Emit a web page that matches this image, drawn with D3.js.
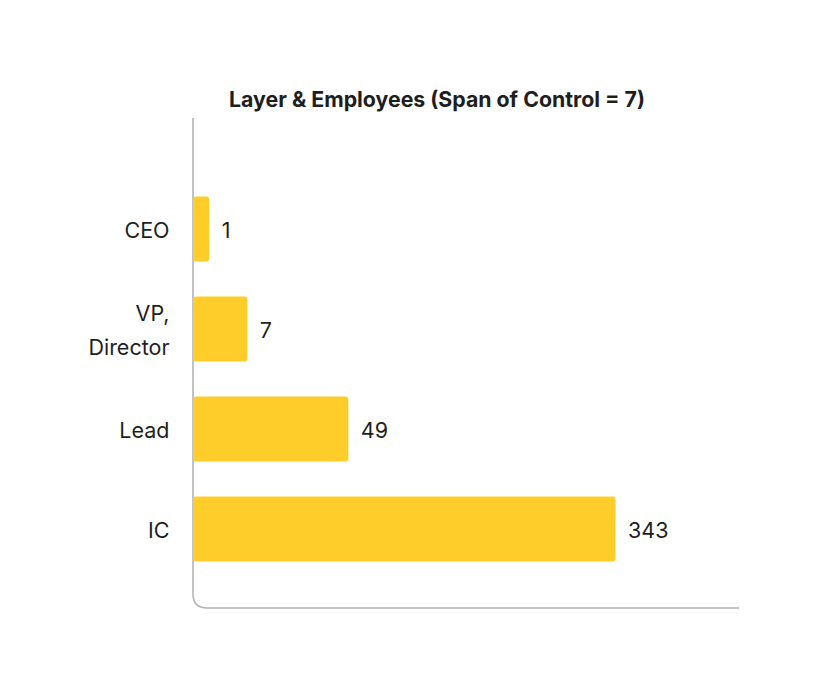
<!DOCTYPE html>
<html>
<head>
<meta charset="utf-8">
<script src="https://cdn.jsdelivr.net/npm/d3@7/dist/d3.min.js"></script>
<style>
  html, body { margin: 0; padding: 0; background: #fff; }
  svg { display: block; font-family: Inter, "Noto Sans", sans-serif; }
</style>
</head>
<body>
<svg id="chart" width="828" height="699"></svg>
<script>
const title = "Layer & Employees (Span of Control = 7)";
const categories = ["CEO", "VP,\nDirector", "Lead", "IC"];
const values = [1, 7, 49, 343];

const svg = d3.select("#chart");

const y = d3.scaleBand()
  .domain(categories)
  .range([179, 579])
  .paddingInner(0.35)
  .paddingOuter(0.175);

const x = d3.scalePow().exponent(0.5)
  .domain([0, 343])
  .range([193 - 7, 615.5]);

// title
svg.append("text")
  .attr("x", 437).attr("y", 107)
  .attr("text-anchor", "middle")
  .attr("font-size", 21.3).attr("font-weight", 700)
  .attr("fill", "#1e1e1e")
  .text(title);

// axis (L-shape with rounded corner)
const ax0 = 193, ayTop = 118, ayBot = 608, axEnd = 739, r = 14;
svg.append("path")
  .attr("d", `M${ax0},${ayTop} V${ayBot - r} Q${ax0},${ayBot} ${ax0 + r},${ayBot} H${axEnd}`)
  .attr("fill", "none")
  .attr("stroke", "#b3b3b3")
  .attr("stroke-width", 1.6);

// bars
svg.selectAll("rect.bar")
  .data(categories)
  .join("rect")
  .attr("class", "bar")
  .attr("x", ax0)
  .attr("y", d => y(d))
  .attr("width", (d, i) => x(values[i]) - ax0)
  .attr("height", y.bandwidth())
  .attr("rx", 3).attr("ry", 3)
  .attr("fill", "#ffcd29");

// value labels
svg.selectAll("text.val")
  .data(categories)
  .join("text")
  .attr("class", "val")
  .attr("x", (d, i) => x(values[i]) + 12.5)
  .attr("y", d => y(d) + y.bandwidth() / 2 + 9)
  .attr("font-size", 21.5)
  .attr("fill", "#1e1e1e")
  .text((d, i) => values[i]);

// category labels
const lab = svg.selectAll("text.cat")
  .data(categories)
  .join("text")
  .attr("class", "cat")
  .attr("text-anchor", "end")
  .attr("font-size", 21.5)
  .attr("fill", "#1e1e1e");

lab.each(function (d) {
  const lines = d.split("\n");
  const cy = y(d) + y.bandwidth() / 2;
  const lh = 34.5;
  const t = d3.select(this);
  lines.forEach((ln, k) => {
    t.append("tspan")
      .attr("x", 169.5)
      .attr("y", cy + 9 + (k - (lines.length - 1) / 2) * lh)
      .text(ln);
  });
});
</script>
</body>
</html>
